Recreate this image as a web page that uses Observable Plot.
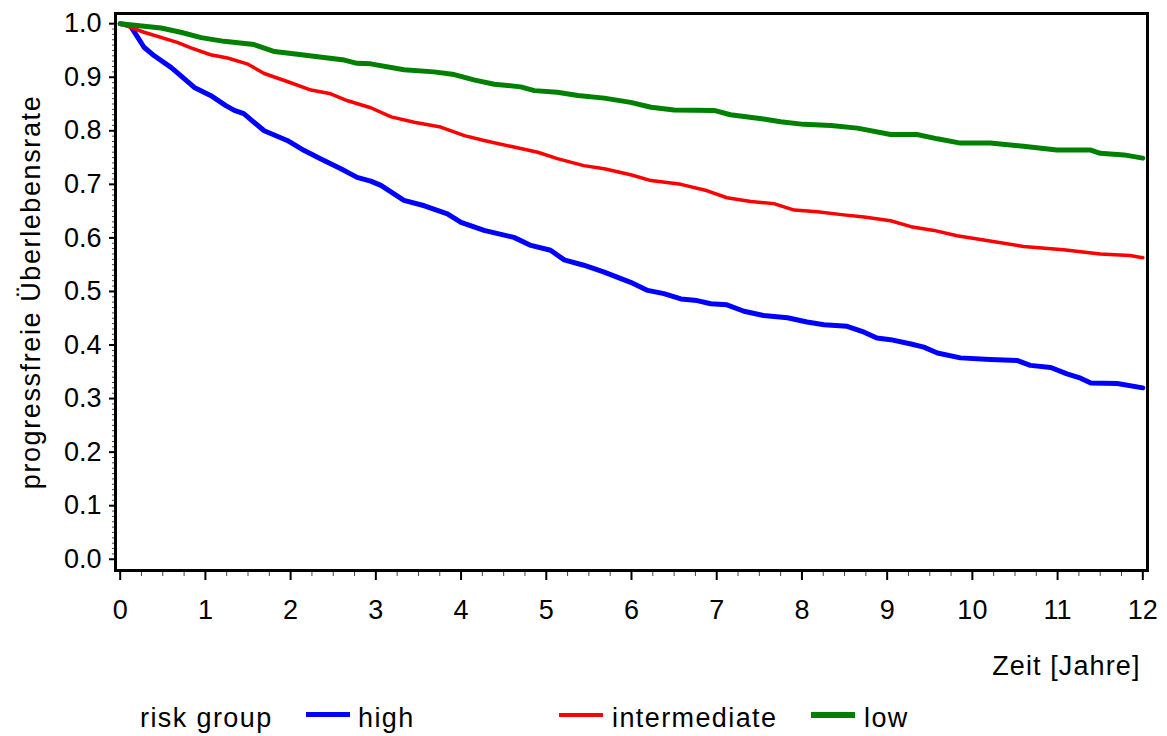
<!DOCTYPE html>
<html><head><meta charset="utf-8">
<script src="https://cdn.jsdelivr.net/npm/d3@7"></script>
<script src="https://cdn.jsdelivr.net/npm/@observablehq/plot@0.6"></script>
<style>
body{margin:0;background:#fff;font-family:"Liberation Sans",Arial,sans-serif;}
#wrap{position:relative;width:1167px;height:736px;background:#fff;}
#legend{position:relative;width:1167px;height:46px;font-size:27px;color:#000;letter-spacing:1.4px;}
.lt{position:absolute;top:15px;line-height:27px;white-space:nowrap;}
.sw{position:absolute;width:44px;}
</style></head><body><div id="wrap"><div id="chart"></div><div id="legend"></div></div>
<script>
// ---- data ----
const groups = ["high", "intermediate", "low"];
const groupColors = ["#0000ff", "#ff0000", "#008000"];
const legendTitle = "risk group";
const xLabel = "Zeit [Jahre]";
const yLabel = "progressfreie Überlebensrate";
const xTicks = [0,1,2,3,4,5,6,7,8,9,10,11,12];
const yTicks = [0,0.1,0.2,0.3,0.4,0.5,0.6,0.7,0.8,0.9,1.0];

const highT = [0,0.12,0.28,0.40,0.60,0.73,0.87,1.06,1.24,1.34,1.45,1.69,1.96,2.16,2.35,2.59,2.78,2.94,3.06,3.33,3.57,3.84,4.00,4.27,4.62,4.82,5.05,5.21,5.44,5.68,5.99,6.19,6.38,6.58,6.77,6.93,7.12,7.32,7.55,7.83,8.06,8.26,8.53,8.73,8.88,9.04,9.28,9.43,9.59,9.86,10.21,10.53,10.68,10.92,11.11,11.27,11.39,11.70,12.0];
const highS = [1.0,0.996,0.956,0.940,0.918,0.900,0.881,0.866,0.847,0.838,0.832,0.800,0.782,0.763,0.748,0.729,0.713,0.706,0.698,0.670,0.660,0.645,0.629,0.614,0.601,0.586,0.577,0.559,0.549,0.536,0.517,0.502,0.496,0.486,0.483,0.477,0.475,0.463,0.455,0.451,0.443,0.438,0.435,0.424,0.413,0.410,0.402,0.396,0.385,0.376,0.373,0.371,0.362,0.358,0.346,0.338,0.329,0.328,0.320];

const interT = [0,0.28,0.67,0.83,1.06,1.26,1.49,1.69,1.96,2.24,2.47,2.67,2.94,3.18,3.45,3.76,4.04,4.27,4.58,4.90,5.13,5.44,5.68,5.99,6.23,6.58,6.89,7.12,7.40,7.67,7.91,8.18,8.49,8.73,9.04,9.28,9.55,9.82,10.17,10.60,11.07,11.50,11.85,12.0];
const interS = [1.0,0.984,0.965,0.955,0.942,0.936,0.925,0.907,0.892,0.876,0.869,0.856,0.843,0.826,0.816,0.807,0.791,0.782,0.771,0.760,0.748,0.735,0.729,0.718,0.707,0.700,0.688,0.675,0.668,0.664,0.652,0.649,0.643,0.639,0.632,0.621,0.614,0.604,0.595,0.584,0.578,0.570,0.567,0.563];

const lowT = [0,0.48,0.71,0.95,1.22,1.57,1.81,2.08,2.39,2.63,2.78,2.94,3.33,3.68,3.92,4.15,4.39,4.70,4.86,5.13,5.37,5.68,5.99,6.23,6.50,6.97,7.16,7.55,7.75,8.02,8.34,8.65,9.04,9.35,9.59,9.86,10.21,10.60,10.99,11.39,11.50,11.78,12.0];
const lowS = [1.0,0.992,0.984,0.974,0.967,0.961,0.948,0.943,0.937,0.932,0.926,0.925,0.914,0.910,0.905,0.895,0.887,0.882,0.875,0.872,0.866,0.861,0.853,0.844,0.839,0.838,0.830,0.822,0.817,0.812,0.810,0.805,0.793,0.793,0.785,0.777,0.777,0.771,0.764,0.764,0.758,0.755,0.749];

// ---- build tables ----
const toRows = (T, S, g) => T.map((t, i) => ({t, s: S[i], group: g}));
const series = [
  {rows: toRows(highT, highS, groups[0]), color: groupColors[0], width: 5},
  {rows: toRows(interT, interS, groups[1]), color: groupColors[1], width: 3.5},
  {rows: toRows(lowT, lowS, groups[2]), color: groupColors[2], width: 5}
];
const xMinor = d3.range(0, 12.001, 0.25).filter(v => Math.abs(v - Math.round(v)) > 1e-6);
const yMinor = d3.range(0, 101).map(i => i / 100).filter(v => Math.abs(v * 10 - Math.round(v * 10)) > 1e-6);

const font = '"Liberation Sans", Arial, sans-serif';
const chart = Plot.plot({
  width: 1167,
  height: 690,
  marginLeft: 115,
  marginRight: 20,
  marginTop: 13,
  marginBottom: 120,
  x: {domain: [-0.055, 12.055]},
  y: {domain: [-0.021, 1.019]},
  style: {fontFamily: font, fontSize: "27px", color: "#000", background: "#fff", overflow: "visible"},
  marks: [
    Plot.axisX({ticks: xMinor, tickSize: 6, text: null, stroke: "#444", strokeWidth: 1, label: null}),
    Plot.axisX({ticks: xTicks, tickSize: 10, tickPadding: 19, tickFormat: d3.format("d"), strokeWidth: 2, fontSize: 27, label: null}),
    Plot.axisY({ticks: yMinor, tickSize: 3, text: null, stroke: "#444", strokeWidth: 1, label: null}),
    Plot.axisY({ticks: yTicks, tickSize: 6, tickPadding: 8, tickFormat: d3.format(".1f"), strokeWidth: 2, fontSize: 27, label: null}),
    ...series.map(s => Plot.line(s.rows, {x: "t", y: "s", stroke: s.color, strokeWidth: s.width, strokeLinejoin: "round", strokeLinecap: "round"})),
    Plot.frame({stroke: "#000", strokeWidth: 3}),
    Plot.text([xLabel], {text: d => d, frameAnchor: "bottom-right", dx: -7, dy: 85, lineAnchor: "top", textAnchor: "end", fontSize: 27, fill: "#000"}),
    Plot.text([yLabel], {text: d => d, frameAnchor: "left", dx: -95, rotate: -90, lineAnchor: "top", textAnchor: "middle", fontSize: 27, fill: "#000"})
  ]
});
d3.select(chart).selectAll("text").each(function() {
  const t = this.textContent;
  if (t === xLabel) this.style.letterSpacing = "1.1px";
  if (t === yLabel) this.style.letterSpacing = "1.6px";
});
document.getElementById("chart").appendChild(chart);

// ---- legend (below the SVG) ----
const legend = document.getElementById("legend");
const addText = (txt, left) => {
  const s = document.createElement("span");
  s.className = "lt"; s.textContent = txt; s.style.left = left + "px";
  legend.appendChild(s);
};
const addSwatch = (color, left, thick) => {
  const d = document.createElement("div");
  d.className = "sw"; d.style.left = left + "px"; d.style.background = color;
  d.style.height = thick + "px"; d.style.top = (24.7 - thick / 2) + "px";
  legend.appendChild(d);
};
addText(legendTitle, 140);
const legendPos = [[306, 358, 5], [559, 612, 4], [811, 864, 6]];
groups.forEach((g, i) => {
  addSwatch(groupColors[i], legendPos[i][0], legendPos[i][2]);
  addText(g, legendPos[i][1]);
});
</script>
</body></html>
